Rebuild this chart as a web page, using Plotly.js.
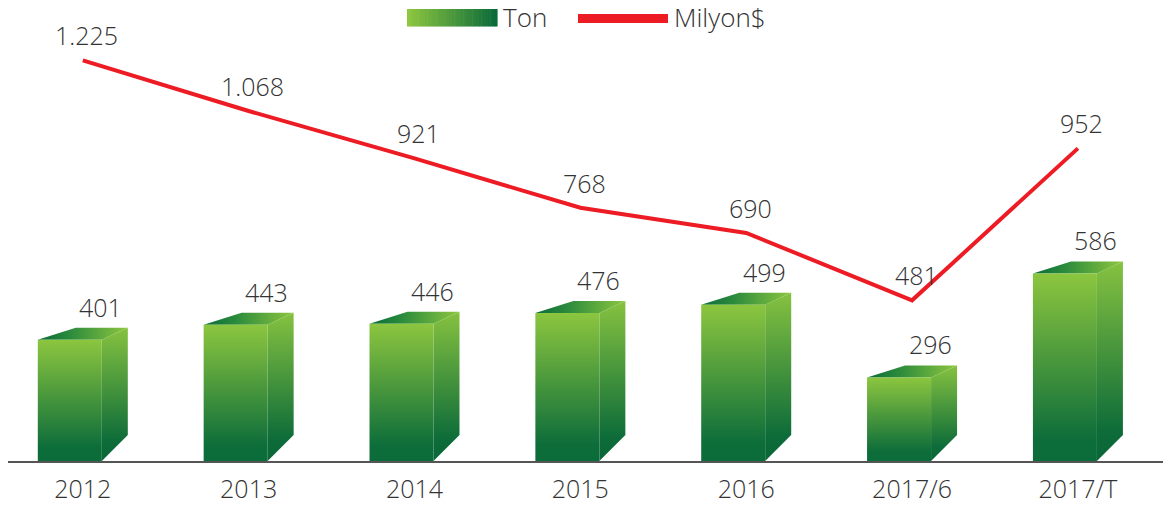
<!DOCTYPE html>
<html>
<head>
<meta charset="utf-8">
<script src="https://cdn.plot.ly/plotly-3.0.1.min.js"></script>
<style>html,body{margin:0;padding:0;background:#fff;}#chart{width:1163px;height:509px;}</style>
</head>
<body>
<div id="chart"></div>
<script>
// ---- data ----
const categories = ['2012', '2013', '2014', '2015', '2016', '2017/6', '2017/T'];
const tonValues = [401, 443, 446, 476, 499, 296, 586];
const milyonValues = [1225, 1068, 921, 768, 690, 481, 952];
const milyonLabels = ['1.225', '1.068', '921', '768', '690', '481', '952'];
const tonLabels = ['401', '443', '446', '476', '499', '296', '586'];
const seriesNames = ['Ton', 'Milyon$'];

// ---- layout constants ----
const W = 1163, H = 509;
const M = {l: 8, r: 0, t: 40, b: 48};
const PW = W - M.l - M.r, PH = H - M.t - M.b;
const xRange = [-0.451, 6.513];
const yRange = [62.9, 62.9 + PH / 0.3585];
const y2Range = [-17, 1288];
const pxX = (xRange[1] - xRange[0]) / PW;   // x units per pixel
const pxY = (yRange[1] - yRange[0]) / PH;   // y units per pixel

const LIGHT = '#8dc63f', DARK = '#0b6b3a';
const FONT = '"Open Sans", "Noto Sans", sans-serif';
const TXT = '#333333';
const WEIGHT = 300;

const xs = categories.map((c, i) => i);
const traces = [];

// 3D bars: front face, side face, top face
const offL = -45 * pxX, offR = 19 * pxX;
const depthX = 26 * pxX, topBackL = 38 * pxX;
const dyTop = 12 * pxY, dyBot = 26 * pxY;
xs.forEach((x, i) => {
  const v = tonValues[i];
  const L = x + offL, R = x + offR, base = yRange[0];
  // side
  traces.push({
    type: 'scatter', mode: 'lines', x: [R, R + depthX, R + depthX, R, R],
    y: [v, v + dyTop, base + dyBot, base, v], fill: 'toself', line: {width: 0},
    fillgradient: {type: 'vertical', colorscale: [[0, '#0a6637'], [0.15, '#0d6c39'], [1, '#86c240']]},
    hoverinfo: 'skip', showlegend: false
  });
  // top
  traces.push({
    type: 'scatter', mode: 'lines', x: [L, L + topBackL, R + depthX, R, L],
    y: [v, v + dyTop, v + dyTop, v, v], fill: 'toself', line: {width: 0},
    fillgradient: {type: 'horizontal', colorscale: [[0, '#0b6b3a'], [0.35, '#2a8a3c'], [1, '#8dc63f']]},
    hoverinfo: 'skip', showlegend: false
  });
  // front
  traces.push({
    type: 'scatter', mode: 'lines', x: [L, R, R, L, L],
    y: [base, base, v, v, base], fill: 'toself', line: {width: 0},
    fillgradient: {type: 'vertical', colorscale: [[0, '#0b6b3a'], [0.12, '#0e6e3a'], [1, '#8cc63f']]},
    name: seriesNames[0], hoverinfo: 'skip', showlegend: false
  });
});

// line series
traces.push({
  type: 'scatter', mode: 'lines', x: xs, y: milyonValues, yaxis: 'y2',
  line: {color: '#ed1c24', width: 4}, name: seriesNames[1], showlegend: false,
  hovertemplate: '%{y}<extra></extra>'
});

const annotations = [];
xs.forEach((x, i) => {
  annotations.push({
    x: x + 18 * pxX, y: tonValues[i], xref: 'x', yref: 'y', text: tonLabels[i],
    showarrow: false, yshift: 33, yanchor: 'middle', xanchor: 'center',
    font: {family: FONT, size: 25, color: TXT, weight: WEIGHT}
  });
  annotations.push({
    x: x + 4 * pxX, y: milyonValues[i], xref: 'x', yref: 'y2', text: milyonLabels[i],
    showarrow: false, yshift: 25, yanchor: 'middle', xanchor: 'center',
    font: {family: FONT, size: 25, color: TXT, weight: WEIGHT}
  });
});

// manual legend
const px2paperX = px => (px - M.l) / PW;
const px2paperY = py => 1 - (py - M.t) / PH;
const shapes = [];
function lerpColor(a, b, t) {
  const pa = [1, 3, 5].map(k => parseInt(a.substr(k, 2), 16));
  const pb = [1, 3, 5].map(k => parseInt(b.substr(k, 2), 16));
  return 'rgb(' + pa.map((c, k) => Math.round(c + (pb[k] - c) * t)).join(',') + ')';
}
const NS = 40, gx0 = 407, gx1 = 497;
for (let k = 0; k < NS; k++) {
  const a = gx0 + (gx1 - gx0) * k / NS, b = gx0 + (gx1 - gx0) * (k + 1) / NS + 0.6;
  shapes.push({type: 'rect', xref: 'paper', yref: 'paper',
    x0: px2paperX(a), x1: px2paperX(b), y0: px2paperY(26.5), y1: px2paperY(9),
    line: {width: 0}, fillcolor: lerpColor(LIGHT, DARK, k / (NS - 1)), layer: 'above'});
}
shapes.push({type: 'rect', xref: 'paper', yref: 'paper',
  x0: px2paperX(578), x1: px2paperX(668), y0: px2paperY(23), y1: px2paperY(14),
  line: {width: 0}, fillcolor: '#ed1c24', layer: 'above'});
annotations.push({xref: 'paper', yref: 'paper', x: px2paperX(501), y: px2paperY(17.5),
  xanchor: 'left', yanchor: 'middle', text: seriesNames[0], showarrow: false,
  font: {family: FONT, size: 26, color: TXT, weight: WEIGHT}});
annotations.push({xref: 'paper', yref: 'paper', x: px2paperX(672), y: px2paperY(17.5),
  xanchor: 'left', yanchor: 'middle', text: seriesNames[1], showarrow: false,
  font: {family: FONT, size: 26, color: TXT, weight: WEIGHT}});

const layout = {
  width: W, height: H, margin: M,
  paper_bgcolor: '#ffffff', plot_bgcolor: '#ffffff',
  showlegend: false,
  xaxis: {
    type: 'linear', range: xRange, tickmode: 'array', tickvals: xs, ticktext: categories,
    showgrid: false, zeroline: false, showline: true, linecolor: '#555555', linewidth: 2,
    ticks: '', ticklabelstandoff: 5, tickfont: {family: FONT, size: 25, color: TXT, weight: WEIGHT}, fixedrange: true
  },
  yaxis: {range: yRange, visible: false, showgrid: false, zeroline: false, fixedrange: true},
  yaxis2: {range: y2Range, overlaying: 'y', visible: false, showgrid: false, zeroline: false, fixedrange: true},
  annotations: annotations,
  shapes: shapes
};

Plotly.newPlot('chart', traces, layout, {displayModeBar: false, staticPlot: true});
</script>
</body>
</html>
